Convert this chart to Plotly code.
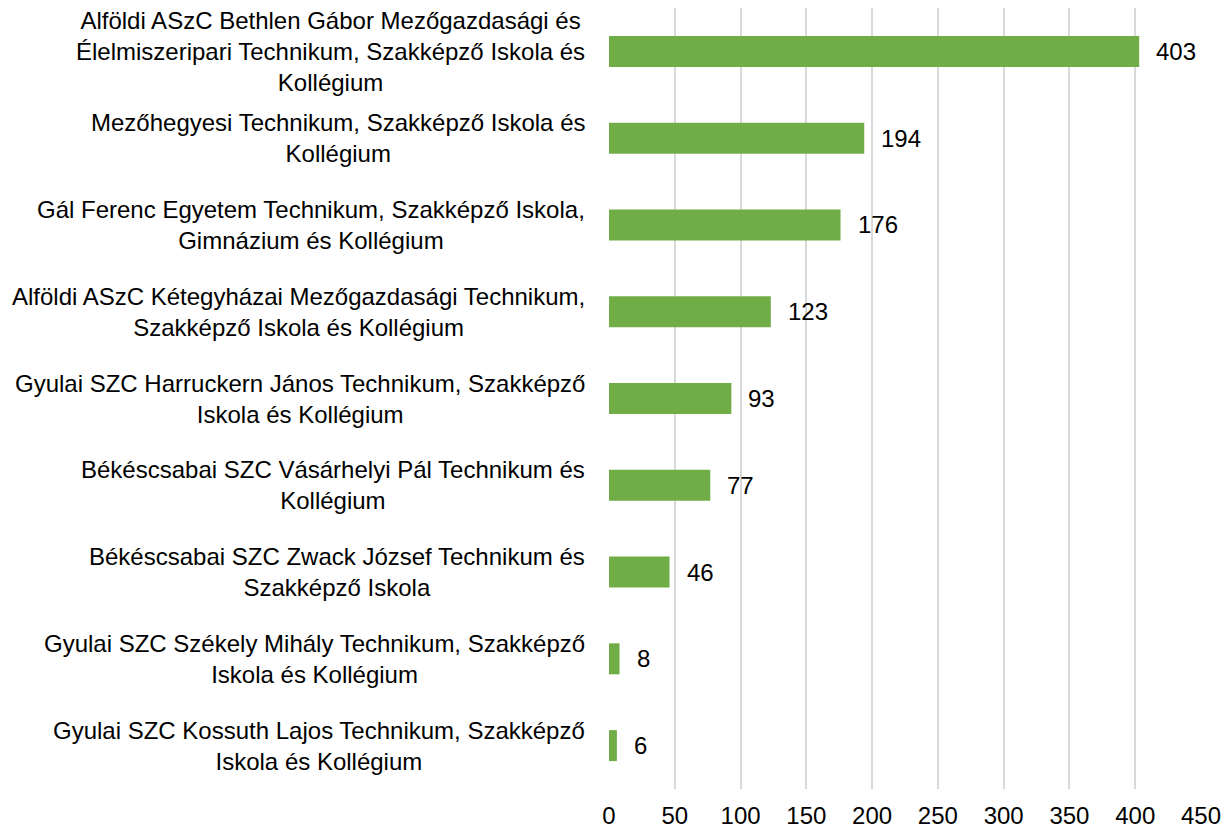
import plotly.graph_objects as go

schools = [
    "Alföldi ASzC Bethlen Gábor Mezőgazdasági és<br>Élelmiszeripari Technikum, Szakképző Iskola és<br>Kollégium",
    "Mezőhegyesi Technikum, Szakképző Iskola és<br>Kollégium",
    "Gál Ferenc Egyetem Technikum, Szakképző Iskola,<br>Gimnázium és Kollégium",
    "Alföldi ASzC Kétegyházai Mezőgazdasági Technikum,<br>Szakképző Iskola és Kollégium",
    "Gyulai SZC Harruckern János Technikum, Szakképző<br>Iskola és Kollégium",
    "Békéscsabai SZC Vásárhelyi Pál Technikum és<br>Kollégium",
    "Békéscsabai SZC Zwack József Technikum és<br>Szakképző Iskola",
    "Gyulai SZC Székely Mihály Technikum, Szakképző<br>Iskola és Kollégium",
    "Gyulai SZC Kossuth Lajos Technikum, Szakképző<br>Iskola és Kollégium",
]
values = [403, 194, 176, 123, 93, 77, 46, 8, 6]
x_ticks = [0, 50, 100, 150, 200, 250, 300, 350, 400, 450]

FONT = "Liberation Sans, Arial, sans-serif"
FS = 24

fig = go.Figure()
fig.add_trace(go.Bar(
    y=list(range(len(schools))), x=values, orientation="h",
    marker=dict(color="#70AD47", line=dict(width=0)),
    hoverinfo="skip",
))

annotations = []
for i, (s, v) in enumerate(zip(schools, values)):
    annotations.append(dict(
        x=0, xref="paper", y=i, yref="y", text=s, showarrow=False,
        xanchor="right", yanchor="middle", align="center", xshift=-22,
        font=dict(family=FONT, size=FS, color="#000000"),
    ))
    annotations.append(dict(
        x=v, xref="x", y=i, yref="y", text=str(v), showarrow=False,
        xanchor="left", yanchor="middle", xshift=15,
        font=dict(family=FONT, size=FS, color="#000000"),
    ))

# page body has an 8px default margin, so the figure is sized to fit the window
fig.update_layout(
    width=1222, height=823,
    margin=dict(l=601, r=29, t=0, b=42, autoexpand=False),
    plot_bgcolor="white", paper_bgcolor="white",
    bargap=0.643,
    showlegend=False,
    annotations=annotations,
    xaxis=dict(
        range=[0, 450], tickvals=x_ticks, ticktext=[str(t) for t in x_ticks],
        showgrid=True, gridcolor="#D9D9D9", gridwidth=2,
        zeroline=False, showline=False, ticks="",
        ticklabelstandoff=10, automargin=False,
        tickfont=dict(family=FONT, size=FS, color="#000000"),
        fixedrange=True,
    ),
    yaxis=dict(
        range=[len(schools) - 0.5, -0.5], showticklabels=False,
        showgrid=False, zeroline=False, showline=False, ticks="",
        automargin=False, fixedrange=True,
    ),
)

fig.write_html("out.html")
